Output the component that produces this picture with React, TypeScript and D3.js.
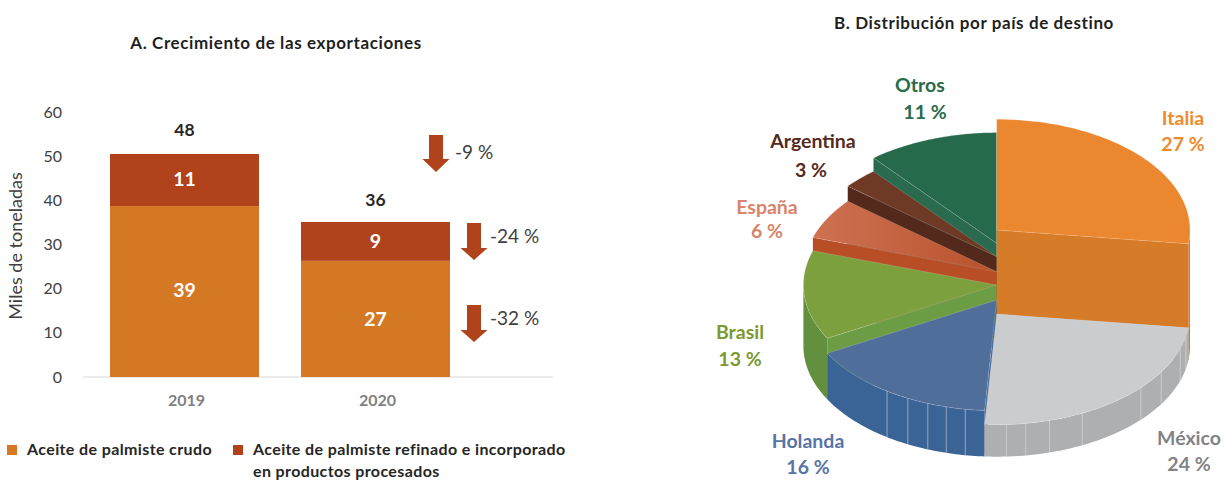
import React from "react";
import * as d3 from "d3";

// ---- data ----
const years = ["2019", "2020"];
const crudeBars = [38.7, 26.3];
const refinedBars = [11.8, 8.8];
const crudeLabels = ["39", "27"];
const refinedLabels = ["11", "9"];
const totalLabels = ["48", "36"];
const yTicks = [0, 10, 20, 30, 40, 50, 60];
const changeLabels = ["-9 %", "-24 %", "-32 %"];

const countries = ["Italia", "México", "Holanda", "Brasil", "España", "Argentina", "Otros"];
const shares = [27, 24, 16, 13, 6, 3, 11];
const mexicoSeams = [28.3, 30.1, 33.8, 36.6, 42.7, 45.6, 47.6, 49.2];
const holandaSeams = [52.6, 54.2, 55.8, 57.6, 59.6];

// ---- styles ----
const FONT = "Lato, Carlito, sans-serif";
const topYs = [230, 314, 300, 285, 271.7, 256.7, 243.3];
const topFill = ["#EB872F", "#CBCCCE", "#506E9A", "#7DA03F", "url(#espana)", "#6E3A26", "#26694B"];
const sideFill = ["#D67B28", "#AEAFB1", "#3A6496", "#62903E", "#B84E26", "#52291A", "#2A6A4E"];
const faceFill = ["#D67B28", "#AEAFB1", "#3A6496", "#6B9D45", "#B84E26", "#52291A", "#2A6A4E"];
const labelFill = ["#EF8B2F", "#828387", "#5975A5", "#7C9A2E", "#D98469", "#562B1D", "#2A6B4C"];
const labelPos: [number, number, number, number][] = [
  [1183, 118, 1183, 144],
  [1189, 438, 1189, 464],
  [808, 441.5, 808, 467.5],
  [740, 332.5, 740, 359.5],
  [767, 207.5, 767, 231.5],
  [813, 141, 811, 170],
  [920, 85, 925, 112],
];
const CX = 996.7, RX = 193.3, RY = 110.7, BOTTOM = 346;

const y = d3.scaleLinear().domain([0, 60]).range([377, 112]);
const x = d3.scaleBand().domain(years).range([89, 471]).paddingInner(0.22).paddingOuter(0.11);
const angle = d3.scaleLinear().domain([0, 100]).range([0, 2 * Math.PI]);
const px = (a: number) => CX + RX * Math.sin(a);
const py = (a: number, c: number) => c - RY * Math.cos(a);
const line = d3.line<[number, number]>();

const cum = d3.cumsum(shares);
const slices = shares.map((s, i) => ({ i, a0: angle(i === 0 ? 0 : cum[i - 1]), a1: angle(cum[i]) }));
const arcPts = (a0: number, a1: number, c: number) =>
  d3.range(0, 61).map((k) => {
    const a = a0 + ((a1 - a0) * k) / 60;
    return [px(a), py(a, c)] as [number, number];
  });

function topPath(s: { i: number; a0: number; a1: number }) {
  const c = topYs[s.i];
  return line([[CX, c], ...arcPts(s.a0, s.a1, c)]) + "Z";
}
function wallPath(s: { i: number; a0: number; a1: number }) {
  const lo = Math.max(s.a0, Math.PI / 2);
  const hi = Math.min(s.a1, (3 * Math.PI) / 2);
  if (hi <= lo) return null;
  return line([...arcPts(lo, hi, topYs[s.i]), ...arcPts(lo, hi, BOTTOM).reverse()]) + "Z";
}
function facePath(s: { i: number; a0: number; a1: number }) {
  const a = s.i === 0 ? s.a1 : s.a0;
  const c = topYs[s.i];
  return line([[CX, c], [px(a), py(a, c)], [px(a), py(a, BOTTOM)], [CX, BOTTOM]]) + "Z";
}
const order = [6, 5, 4, 3, 2, 0, 1];

const arrows: [number, number, number, number, number][] = [
  // centre x, top, head start, tip, label x
  [436, 135, 159, 172, 455],
  [474, 223, 248, 260, 490],
  [474, 305, 330, 342, 490],
];
const changeY = [152, 236, 318];
const crudeNudge = [-5.5, -4];
const totalNudge = [-24, -22];

function Seams({ list, top }: { list: number[]; top: number }) {
  return (
    <g stroke="#E4E6EA" strokeWidth={0.7} opacity={0.75}>
      {list.map((v) => {
        const a = angle(v);
        return <line key={v} x1={px(a)} x2={px(a)} y1={py(a, top)} y2={py(a, BOTTOM)} />;
      })}
    </g>
  );
}

export default function App() {
  return (
    <svg
      width={1224}
      height={480}
      viewBox="0 0 1224 480"
      style={{ position: "absolute", left: 0, top: 0, background: "#fff" }}
      fontFamily={FONT}
    >
      <defs>
        <linearGradient id="espana" x1="0" x2="1" y1="0" y2="0">
          <stop offset="0" stopColor="#CE7252" />
          <stop offset="1" stopColor="#B8522C" />
        </linearGradient>
      </defs>

      {/* Panel A */}
      <text x={276} y={43} dy="0.35em" textAnchor="middle" fontSize={17} letterSpacing={0.6} fontWeight={700} fill="#1f1f1f">
        A. Crecimiento de las exportaciones
      </text>
      {yTicks.map((t) => (
        <text key={t} x={62} y={y(t)} dy="0.35em" textAnchor="end" fontSize={16} fill="#404040">
          {t}
        </text>
      ))}
      <text
        transform="translate(16,246) rotate(-90)"
        dy="0.35em"
        textAnchor="middle"
        fontSize={18}
        fill="#404040"
      >
        Miles de toneladas
      </text>
      <line x1={83} x2={553} y1={y(0)} y2={y(0)} stroke="#D9D9D9" strokeWidth={1} />
      {years.map((yr, i) => {
        const bx = x(yr) as number;
        const w = x.bandwidth();
        const mid = bx + w / 2;
        const top = crudeBars[i] + refinedBars[i];
        return (
          <g key={yr}>
            <rect x={bx} width={w} y={y(crudeBars[i])} height={y(0) - y(crudeBars[i])} fill="#D47824" />
            <rect x={bx} width={w} y={y(top)} height={y(crudeBars[i]) - y(top)} fill="#B0431C" />
            <text x={mid} y={y(crudeBars[i] * 0.5) + crudeNudge[i] + 4} dy="0.35em" textAnchor="middle" fontSize={19.5} fontWeight={700} fill="#fff">
              {crudeLabels[i]}
            </text>
            <text x={mid} y={y(crudeBars[i] + refinedBars[i] / 2) - 0.5} dy="0.35em" textAnchor="middle" fontSize={19.5} fontWeight={700} fill="#fff">
              {refinedLabels[i]}
            </text>
            <text x={mid} y={y(top) + totalNudge[i]} dy="0.35em" textAnchor="middle" fontSize={17.5} fontWeight={700} fill="#262626">
              {totalLabels[i]}
            </text>
            <text x={mid + 2} y={400} dy="0.35em" textAnchor="middle" fontSize={16} fontWeight={700} fill="#7F7F7F">
              {yr}
            </text>
          </g>
        );
      })}
      {arrows.map(([c, t, h, tip, lx], i) => (
        <g key={i}>
          <path
            d={line([[c - 7, t], [c + 7, t], [c + 7, h], [c + 13.5, h], [c, tip], [c - 13.5, h], [c - 7, h]]) + "Z"}
            fill="#B0431C"
          />
          <text x={lx} y={changeY[i]} dy="0.35em" fontSize={19} fill="#404040">
            {changeLabels[i]}
          </text>
        </g>
      ))}
      <g fontSize={16} letterSpacing={0.38} fontWeight={700} fill="#262626">
        <rect x={7} y={445} width={10} height={10} fill="#D47824" />
        <text x={27} y={449.5} dy="0.35em">
          Aceite de palmiste crudo
        </text>
        <rect x={233} y={445} width={10} height={10} fill="#B0431C" />
        <text x={253} y={449.5} dy="0.35em">
          Aceite de palmiste refinado e incorporado
        </text>
        <text x={253} y={471.5} dy="0.35em">
          en productos procesados
        </text>
      </g>

      {/* Panel B */}
      <text x={974} y={23} dy="0.35em" textAnchor="middle" fontSize={17} letterSpacing={0.6} fontWeight={700} fill="#1f1f1f">
        B. Distribución por país de destino
      </text>
      {order.map((idx) => {
        const s = slices[idx];
        const w = wallPath(s);
        return (
          <g key={idx}>
            <path d={facePath(s)} fill={faceFill[idx]} />
            {w && <path d={w} fill={sideFill[idx]} />}
            {idx === 1 && <Seams list={mexicoSeams} top={topYs[1]} />}
            {idx === 2 && <Seams list={holandaSeams} top={topYs[2]} />}
            <path d={topPath(s)} fill={topFill[idx]} stroke="#ffffff" strokeOpacity={0.28} strokeWidth={0.6} />
          </g>
        );
      })}
      {countries.map((c, i) => {
        const [nx, ny, vx, vy] = labelPos[i];
        return (
          <g key={c} fontSize={19.5} fontWeight={700} fill={labelFill[i]} textAnchor="middle">
            <text x={nx} y={ny} dy="0.35em">{c}</text>
            <text x={vx} y={vy} dy="0.35em">{`${shares[i]} %`}</text>
          </g>
        );
      })}
    </svg>
  );
}
